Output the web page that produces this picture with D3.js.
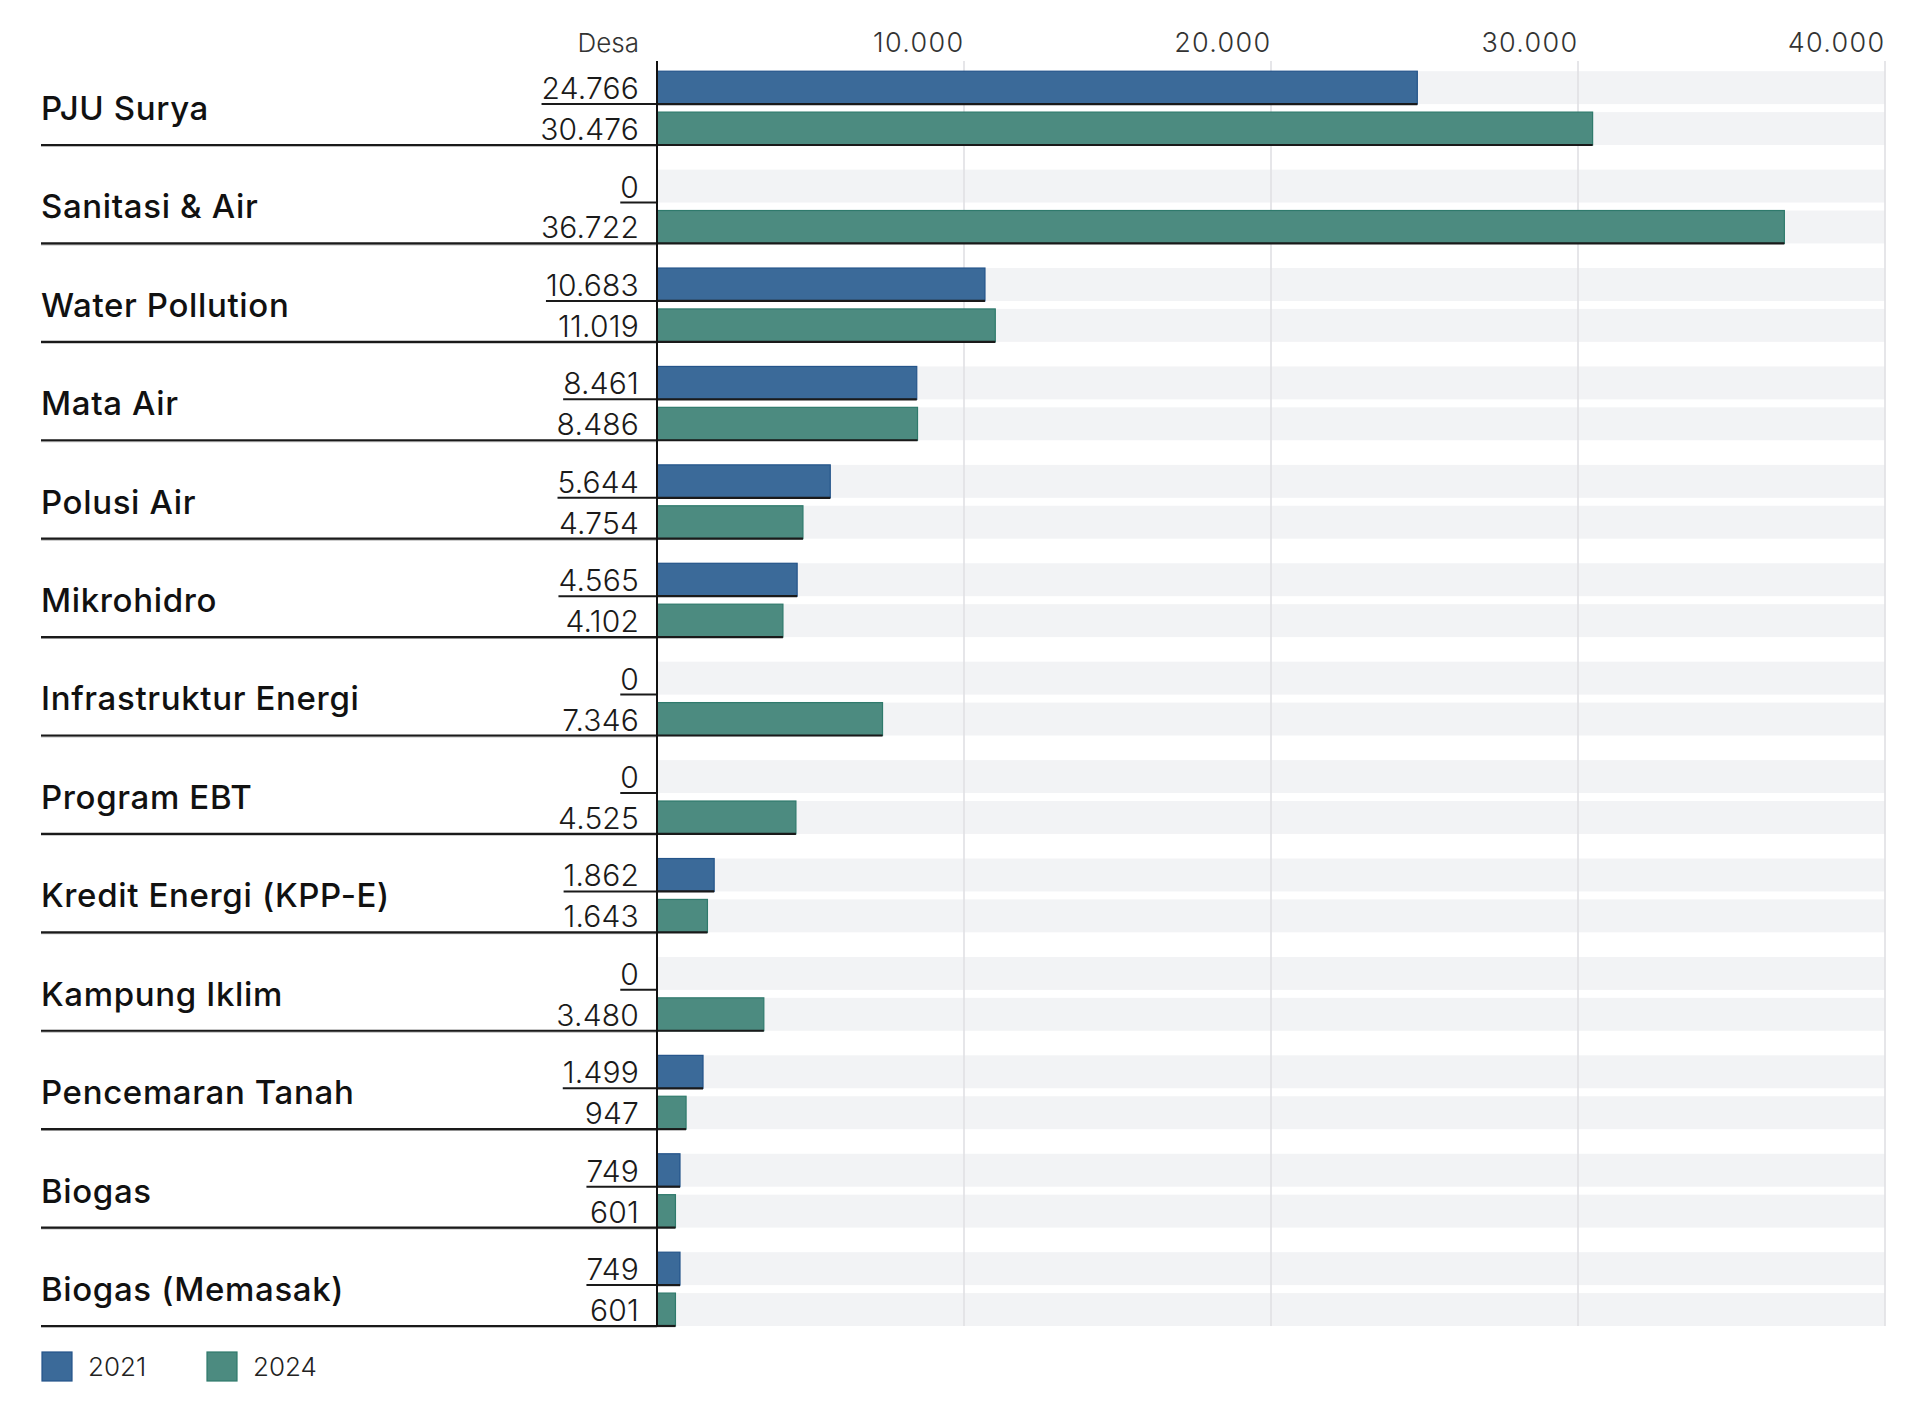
<!DOCTYPE html>
<html>
<head>
<meta charset="utf-8">
<script src="https://cdn.jsdelivr.net/npm/d3@7"></script>
<style>
  html, body { margin: 0; padding: 0; background: #ffffff; }
  svg { display: block; font-family: Inter, "Noto Sans", Lato, sans-serif; }
</style>
</head>
<body>
<svg id="chart" width="1920" height="1403"></svg>
<script>
const categories = ["PJU Surya", "Sanitasi & Air", "Water Pollution", "Mata Air", "Polusi Air", "Mikrohidro", "Infrastruktur Energi", "Program EBT", "Kredit Energi (KPP-E)", "Kampung Iklim", "Pencemaran Tanah", "Biogas", "Biogas (Memasak)"];
const values2021 = [24766, 0, 10683, 8461, 5644, 4565, 0, 0, 1862, 0, 1499, 749, 749];
const values2024 = [30476, 36722, 11019, 8486, 4754, 4102, 7346, 4525, 1643, 3480, 947, 601, 601];
const seriesNames = ["2021", "2024"];
const tickValues = [0, 10000, 20000, 30000, 40000];
const unitLabel = "Desa";

const colors = { "2021": "#3b6a99", "2024": "#4c8b80" };
const strokes = { "2021": "#24548a", "2024": "#2f7a6c" };

const locale = d3.formatLocale({ decimal: ",", thousands: ".", grouping: [3], currency: ["Rp", ""] });
const fmt = locale.format(",d");

const svg = d3.select("#chart");
const axisX = 657, rightX = 1885, labelX = 41, valueX = 639;
const plotTop = 46.6, plotBottom = 1326;

const x = d3.scaleLinear().domain([0, 40000]).range([axisX, rightX]);
const y = d3.scaleBand().domain(categories).range([plotTop, plotBottom]).paddingInner(0).paddingOuter(0);
const bw = y.bandwidth();
const ySub = d3.scaleBand().domain(seriesNames).range([bw * 0.25, bw]).paddingInner(0.195).paddingOuter(0);

const rows = categories.map((c, i) => ({
  cat: c,
  vals: [{ s: "2021", v: values2021[i] }, { s: "2024", v: values2024[i] }]
}));

// background bands
const gBg = svg.append("g");
rows.forEach(r => {
  r.vals.forEach(d => {
    gBg.append("rect")
      .attr("x", x(0)).attr("width", x(40000) - x(0))
      .attr("y", y(r.cat) + ySub(d.s)).attr("height", ySub.bandwidth())
      .attr("fill", "#f2f3f5");
  });
});

// grid lines
svg.append("g").selectAll("line").data(tickValues.filter(t => t > 0)).join("line")
  .attr("x1", d => x(d)).attr("x2", d => x(d))
  .attr("y1", 61).attr("y2", plotBottom)
  .attr("stroke", "#e0e0e4").attr("stroke-width", 1.6);

// axis tick labels (right-aligned to grid lines)
const axis = d3.axisTop(x).tickValues(tickValues).tickSize(0)
  .tickFormat(d => d === 0 ? "" : fmt(d));
const gAxis = svg.append("g").attr("transform", `translate(0, 43)`).call(axis);
gAxis.select(".domain").remove();
gAxis.selectAll("text")
  .attr("text-anchor", "end").attr("dy", "0.35em").attr("y", 0)
  .attr("font-size", 27).attr("font-weight", 300).attr("fill", "#333")
  .attr("letter-spacing", 1.3)
  .style("font-family", "Inter, 'Noto Sans', sans-serif");
svg.append("text").attr("x", valueX).attr("y", 43).attr("dy", "0.35em")
  .attr("text-anchor", "end").attr("font-size", 26).attr("font-weight", 300)
  .attr("fill", "#333").text(unitLabel);

// bars
const gBars = svg.append("g");
rows.forEach(r => {
  r.vals.forEach(d => {
    const by = y(r.cat) + ySub(d.s), bh = ySub.bandwidth();
    if (d.v > 0) {
      gBars.append("rect")
        .attr("x", x(0)).attr("y", by)
        .attr("width", x(d.v) - x(0)).attr("height", bh)
        .attr("fill", colors[d.s]).attr("stroke", strokes[d.s]).attr("stroke-width", 1.2);
      gBars.append("line")
        .attr("x1", x(0)).attr("x2", x(d.v))
        .attr("y1", by + bh).attr("y2", by + bh)
        .attr("stroke", "#1a1a1a").attr("stroke-width", 2.2);
    }
  });
});

// category labels, value labels, separators
const gLab = svg.append("g");
rows.forEach(r => {
  const rt = y(r.cat);
  const gapMid = rt + ySub("2021") + ySub.bandwidth() + (ySub("2024") - ySub("2021") - ySub.bandwidth()) / 2;
  gLab.append("text")
    .attr("x", labelX).attr("y", gapMid).attr("dy", "0.36em")
    .attr("font-size", 33).attr("font-weight", 500).attr("fill", "#111")
    .attr("letter-spacing", 0.65)
    .text(r.cat);

  r.vals.forEach(d => {
    const bb = rt + ySub(d.s) + ySub.bandwidth();
    const t = gLab.append("text")
      .attr("x", valueX).attr("y", bb - 5)
      .attr("text-anchor", "end")
      .attr("font-size", 30).attr("font-weight", 300).attr("fill", "#1a1a1a")
      .attr("letter-spacing", 0.2)
      .text(fmt(d.v));
    if (d.s === "2021") {
      const w = t.node().getComputedTextLength();
      gLab.append("line")
        .attr("x1", valueX - w).attr("x2", x(0))
        .attr("y1", bb).attr("y2", bb)
        .attr("stroke", "#1a1a1a").attr("stroke-width", 2);
    }
  });
  const sepY = rt + bw;
  gLab.append("line")
    .attr("x1", labelX).attr("x2", x(0))
    .attr("y1", sepY + 1.2).attr("y2", sepY + 1.2)
    .attr("stroke", "#bbb").attr("stroke-width", 1.5);
  gLab.append("line")
    .attr("x1", labelX).attr("x2", x(0))
    .attr("y1", sepY).attr("y2", sepY)
    .attr("stroke", "#1a1a1a").attr("stroke-width", 2.2);
});

// vertical axis line
svg.append("line")
  .attr("x1", x(0)).attr("x2", x(0))
  .attr("y1", 61).attr("y2", plotBottom)
  .attr("stroke", "#111").attr("stroke-width", 2);

// legend
const leg = svg.append("g").attr("transform", "translate(42, 1352)");
const legX = d3.scalePoint().domain(seriesNames).range([0, 165]);
seriesNames.forEach(s => {
  leg.append("rect").attr("x", legX(s)).attr("y", 0).attr("width", 30).attr("height", 29)
    .attr("fill", colors[s]).attr("stroke", strokes[s]).attr("stroke-width", 1.2);
  leg.append("text").attr("x", legX(s) + 46).attr("y", 14.5).attr("dy", "0.36em")
    .attr("font-size", 26).attr("font-weight", 300).attr("fill", "#222").text(s);
});
</script>
</body>
</html>
